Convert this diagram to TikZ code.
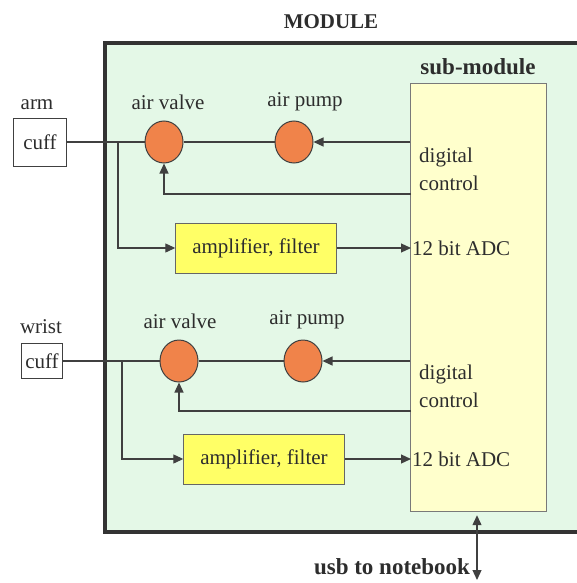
\documentclass[tikz,border=0pt]{standalone}
\usepackage{fontspec}
\setmainfont{Liberation Serif}
\usepackage{xcolor}
\definecolor{mdgreen}{RGB}{228,248,231}
\definecolor{mdyellow}{RGB}{255,255,204}
\definecolor{mdamber}{RGB}{255,255,102}
\definecolor{mdorange}{RGB}{240,131,74}
\definecolor{mdgray}{RGB}{64,64,64}
\usetikzlibrary{arrows.meta,positioning,shapes.geometric,calc}

\begin{document}
\begin{tikzpicture}[x=1pt,y=-1pt,
  lbl/.style={font=\fontsize{21}{28}\selectfont,inner sep=1pt,text=mdgray!70!black},
  hdr/.style={font=\fontsize{21}{24}\selectfont\bfseries,inner sep=1pt,text=mdgray!70!black},
  cuffbox/.style={draw=mdgray,fill=white,font=\fontsize{21}{24}\selectfont,inner sep=3pt,text=mdgray!70!black},
  valve/.style={draw=mdgray,ellipse,fill=mdorange,minimum width=38pt,minimum height=42pt,inner sep=0pt,line width=1pt},
  filt/.style={draw=mdgray!80,fill=mdamber,minimum width=161pt,minimum height=50pt,font=\fontsize{21}{24}\selectfont,text=mdgray!70!black},
  wire/.style={mdgray,line width=1.2pt},
  arr/.style={wire,-{Triangle[length=10pt,width=9pt]}}]
  \clip (0,0) rectangle (577,583);
  % Module frame
  \node[hdr] (module) at (331,22) {MODULE};
  \draw[line width=3.5pt,draw=black!80,fill=mdgreen] (105,43) rectangle (600,532);
  % Sub-module
  \node[hdr,font=\fontsize{23}{24}\selectfont\bfseries] (subtitle) at (478,67) {sub-module};
  \node[draw=mdgray!70,fill=mdyellow,minimum width=136pt,minimum height=428pt,inner sep=0pt] (sub) at (478.5,297) {};
  % Arm channel
  \node[lbl] (arm) at (37,105) {arm};
  \node[cuffbox,minimum width=53pt,minimum height=48pt] (cuffA) at (40,142) {cuff};
  \node[valve] (valveA) at (164,142) {};
  \node[valve] (pumpA) at (294,142) {};
  \node[lbl] (valveAlbl) at (168,102) {air valve};
  \node[lbl] (pumpAlbl) at (305,102) {air pump};
  \node[filt] (ampA) at (256,248) {amplifier, filter};
  \node[lbl,align=left,anchor=west] (ctrlA) at (418,169) {digital\\control};
  \node[lbl,anchor=west] (adcA) at (411,248) {12 bit ADC};
  \coordinate (brA) at (118,142);
  \coordinate (fbA) at (411,194);
  \draw[wire] (cuffA) -- (valveA);
  \draw[wire] (valveA) -- (pumpA);
  \draw[arr] (sub.west |- pumpA) -- (pumpA);
  \draw[arr] (fbA) -| (valveA);
  \draw[arr] (brA) |- (ampA);
  \draw[arr] (ampA) -- (adcA.west);
  % Wrist channel
  \node[lbl] (wrist) at (41,327) {wrist};
  \node[cuffbox,minimum width=41pt,minimum height=35pt,inner sep=1pt] (cuffB) at (42,361) {cuff};
  \node[valve] (valveB) at (179,361) {};
  \node[valve] (pumpB) at (303,361) {};
  \node[lbl] (valveBlbl) at (180,321) {air valve};
  \node[lbl] (pumpBlbl) at (307,320) {air pump};
  \node[filt] (ampB) at (264,459) {amplifier, filter};
  \node[lbl,align=left,anchor=west] (ctrlB) at (418,386) {digital\\control};
  \node[lbl,anchor=west] (adcB) at (411,459) {12 bit ADC};
  \coordinate (brB) at (122,361);
  \coordinate (fbB) at (411,411);
  \draw[wire] (cuffB) -- (valveB);
  \draw[wire] (valveB) -- (pumpB);
  \draw[arr] (sub.west |- pumpB) -- (pumpB);
  \draw[arr] (fbB) -| (valveB);
  \draw[arr] (brB) |- (ampB);
  \draw[arr] (ampB) -- (adcB.west);
  % USB link
  \node[hdr,font=\fontsize{23}{24}\selectfont\bfseries] (usb) at (392,567) {usb to notebook};
  \coordinate (usbend) at (477,580);
  \draw[wire,{Triangle[length=10pt,width=9pt]}-{Triangle[length=10pt,width=9pt]}] (usbend |- sub.south) ++(0,4) -- (usbend);
\end{tikzpicture}
\end{document}
